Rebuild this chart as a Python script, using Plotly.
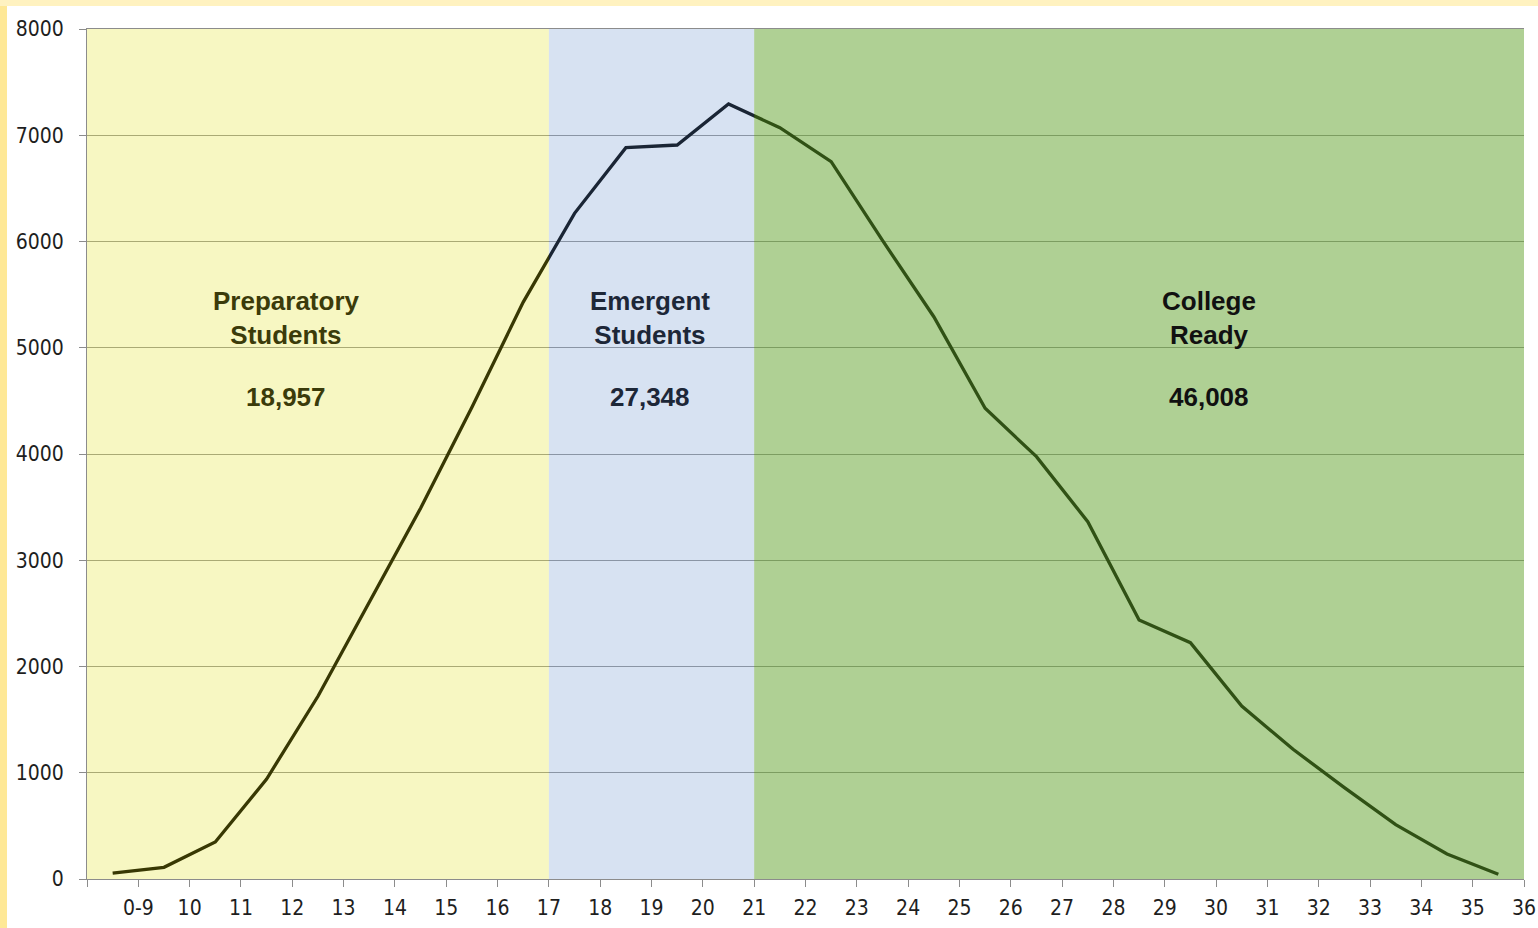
import plotly.graph_objects as go

# ACT-style score distribution, three readiness bands
score_labels = ["0-9"] + [str(s) for s in range(10, 37)]
student_counts = [55, 110, 348, 941, 1720, 2600, 3490, 4440, 5430, 6265,
                  6883, 6908, 7294, 7071, 6751, 6010, 5292, 4430, 3975, 3363,
                  2438, 2224, 1628, 1221, 860, 512, 235, 45]

band_names = ["Preparatory<br>Students", "Emergent<br>Students", "College<br>Ready"]
band_totals = ["18,957", "27,348", "46,008"]
band_bounds = ["17", "21", "36"]

W, H = 1538, 928
L, R, T, B = 87, 14, 29, 49

tickvals = list(range(len(score_labels) + 1))
ticktext = [""] + score_labels
x_pts = [i + 0.5 for i in range(len(student_counts))]

# band overlays are translucent and sit on top, tinting line and gridlines
band_fills = ["rgba(223,222,10,0.25)", "rgba(100,142,204,0.26)", "rgba(95,161,41,0.5)"]
text_colors = ["#3b3b0a", "#1d2738", "#111111"]
label_x = [3.88, 10.97, 21.87]

edges = [0] + [score_labels.index(b) + 1 for b in band_bounds]

fig = go.Figure()
fig.add_trace(go.Scatter(
    x=x_pts, y=student_counts, mode="lines",
    line={"color": "#000000", "width": 3.3},
    hoverinfo="skip", showlegend=False,
))

for k in range(3):
    fig.add_shape(type="rect", xref="x", yref="y",
                  x0=edges[k], x1=edges[k + 1], y0=0, y1=8000,
                  fillcolor=band_fills[k], line={"width": 0}, layer="above")
    fig.add_annotation(x=label_x[k], y=5280, xref="x", yref="y",
                       text=f"<b>{band_names[k]}</b>", showarrow=False,
                       font={"family": "Liberation Sans, Arial", "size": 26,
                             "color": text_colors[k]})
    fig.add_annotation(x=label_x[k], y=4536, xref="x", yref="y",
                       text=f"<b>{band_totals[k]}</b>", showarrow=False,
                       font={"family": "Liberation Sans, Arial", "size": 26,
                             "color": text_colors[k]})

# pale yellow frame strips on the left and top of the slide
pw, ph = W - L - R, H - T - B
def px(xp):
    return (xp - L) / pw
def py(yp):
    return (H - B - yp) / ph
fig.add_shape(type="rect", xref="paper", yref="paper",
              x0=px(0), x1=px(7), y0=py(H), y1=py(0),
              fillcolor="#fee896", line={"width": 0}, layer="below")
fig.add_shape(type="rect", xref="paper", yref="paper",
              x0=px(0), x1=px(W), y0=py(6), y1=py(0),
              fillcolor="#fff2c0", line={"width": 0}, layer="below")

tick_font = {"family": "DejaVu Sans Condensed, DejaVu Sans", "size": 21, "color": "#1e1e1e"}
fig.update_xaxes(
    range=[0, len(score_labels)], tickvals=tickvals, ticktext=ticktext,
    showgrid=False, zeroline=False, automargin=False,
    showline=True, linecolor="#8c8c8c", linewidth=1, mirror=True,
    ticks="outside", ticklen=7, tickcolor="#8c8c8c",
    tickfont=tick_font, ticklabelstandoff=3,
)
fig.update_yaxes(
    range=[0, 8000], tickvals=list(range(0, 8001, 1000)),
    showgrid=True, gridcolor="#989898", gridwidth=1, zeroline=False,
    automargin=False,
    showline=True, linecolor="#8c8c8c", linewidth=1,
    ticks="outside", ticklen=7, tickcolor="#8c8c8c",
    tickfont=tick_font, ticklabelstandoff=11,
)
fig.update_layout(
    width=W, height=H,
    margin={"l": L, "r": R, "t": T, "b": B},
    paper_bgcolor="white", plot_bgcolor="white",
    showlegend=False,
)
fig.write_html(
    "out.html",
    config={"displayModeBar": False},
    post_script="document.body.style.margin='0';document.body.style.overflow='hidden';",
)
